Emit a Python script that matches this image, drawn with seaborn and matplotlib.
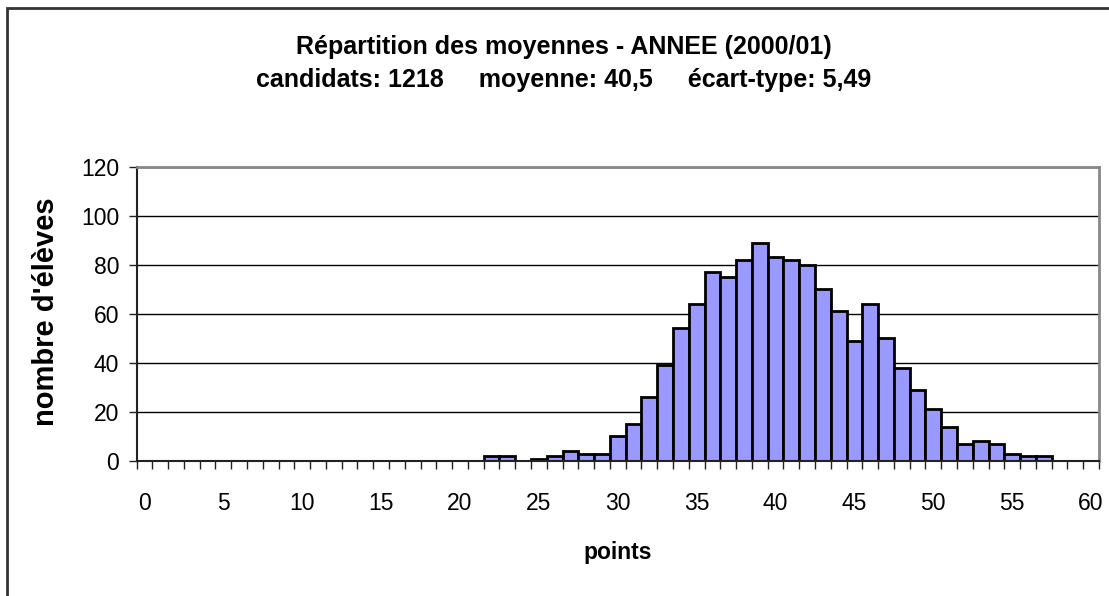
import matplotlib
matplotlib.use("Agg")
import matplotlib.pyplot as plt
import matplotlib.patches as mpatches
from matplotlib.ticker import FixedLocator, NullFormatter
import seaborn as sns
import pandas as pd

# ---- data ----
categories = list(range(0, 61))
points = list(range(22, 58))
counts = [2, 2, 0, 1, 2, 4, 3, 3, 10, 15, 26, 39, 54, 64, 77, 75, 82, 89,
          83, 82, 80, 70, 61, 49, 64, 50, 38, 29, 21, 14, 7, 8, 7, 3, 2, 2]
yticks = [0, 20, 40, 60, 80, 100, 120]
xtick_labels = [str(v) for v in range(0, 61, 5)]
title_line1 = "Répartition des moyennes - ANNEE (2000/01)"
title_line2 = "candidats: 1218     moyenne: 40,5     écart-type: 5,49"
xlabel = "points"
ylabel = "nombre d'élèves"

sns.set_style("white")
plt.rcParams['font.family'] = ['Liberation Sans', 'DejaVu Sans']
plt.rcParams['text.color'] = 'black'
plt.rcParams['axes.labelcolor'] = 'black'

W, H, DPI = 1109, 596, 100
fig = plt.figure(figsize=(W / DPI, H / DPI), dpi=DPI)
fig.patch.set_facecolor("white")

L, R, T, B = 136.5, 1099, 166.5, 461
ax = fig.add_axes([L / W, 1 - B / H, (R - L) / W, (B - T) / H])

df = pd.DataFrame({"points": points, "count": counts})
df = df[df["count"] > 0]
sns.barplot(data=df, x="points", y="count", order=categories, ax=ax,
            color="#9999FF", saturation=1, width=1.0,
            edgecolor="black", linewidth=2.0, zorder=3)

ax.set_xlim(-0.5, 60.5)
ax.set_ylim(0, 120)

# gridlines
ax.set_yticks(yticks)
ax.yaxis.grid(True, color="black", linewidth=1.0, zorder=0)
ax.set_axisbelow(True)

# x ticks: labels every 5 at category centers, marks at category boundaries
ax.set_xticks(list(range(0, 61, 5)))
ax.set_xticklabels(xtick_labels)
ax.xaxis.set_minor_locator(FixedLocator([i - 0.5 for i in range(0, 62)]))
ax.xaxis.set_minor_formatter(NullFormatter())
ax.tick_params(axis="x", which="major", length=0, pad=22, labelsize=16.5,
               labelcolor="black")
ax.tick_params(axis="x", which="minor", length=6, width=1.0, color="#222222",
               direction="out", bottom=True)
ax.tick_params(axis="y", which="major", length=5.5, width=1.0, color="#222222",
               direction="out", left=True, pad=7, labelsize=16.5,
               labelcolor="black")

for s in ["left", "bottom"]:
    ax.spines[s].set_color("#222222")
    ax.spines[s].set_linewidth(1.5)
for s in ["top", "right"]:
    ax.spines[s].set_color("#888888")
    ax.spines[s].set_linewidth(2.0)
for s in ax.spines.values():
    s.set_zorder(4)

ax.set_xlabel(xlabel, fontsize=16.5, fontweight="bold", color="black")
ax.set_ylabel(ylabel, fontsize=21, fontweight="bold", color="black")
ax.xaxis.label.set_verticalalignment("center")
ax.yaxis.label.set_verticalalignment("center")
ax.xaxis.set_label_coords((618 - L) / (R - L), -(553 - B) / (B - T))
ax.yaxis.set_label_coords(-(L - 46) / (R - L), (B - 312) / (B - T))

cx = 564 / W
fig.text(cx, 1 - 47 / H, title_line1, ha="center", va="center",
         fontsize=18, fontweight="bold", color="black")
fig.text(cx, 1 - 80 / H, title_line2, ha="center", va="center",
         fontsize=18, fontweight="bold", color="black")

# outer chart frame
frame = mpatches.Rectangle((7 / W, -0.1), 1.2, 1.1 - 7.5 / H,
                           transform=fig.transFigure, fill=False,
                           edgecolor="#333333", linewidth=2.0, zorder=10)
fig.patches.append(frame)

fig.savefig("out.png", dpi=DPI, facecolor="white")
